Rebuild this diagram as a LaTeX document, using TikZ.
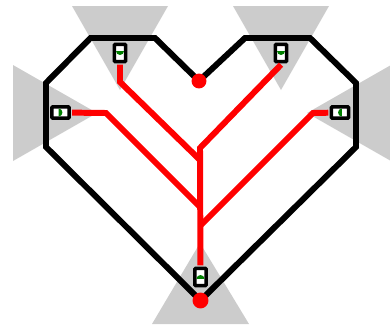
\documentclass[tikz,border=0pt]{standalone}
\usepackage{tikz}
\usetikzlibrary{calc}
\definecolor{conegray}{HTML}{CCCCCC}
\definecolor{domegreen}{HTML}{008000}
\newcommand{\sensordome}[2]{\fill[domegreen] ($(#1.center)+(#2-90:2pt)+(#2:4pt)$) arc[start angle=#2,delta angle=180,radius=4pt] -- cycle;}

\begin{document}
\begin{tikzpicture}[x=1bp,y=-1bp,
 cone/.style={fill=conegray},
 shell/.style={draw=black,line width=6pt,line join=miter},
 wire/.style={draw=red,line width=6pt,line join=miter},
 sensorv/.style={draw=black,fill=white,line width=3.5pt,rounded corners=1pt,minimum width=11.2pt,minimum height=17.5pt,inner sep=0pt,outer sep=3pt},
 sensorh/.style={sensorv,minimum width=17.5pt,minimum height=11.2pt},
 dot/.style={circle,fill=red,inner sep=0pt}]
\useasboundingbox (0,0) rectangle (390,325);
\fill[cone] (72,6) -- (168,6) -- (120,90) -- cycle;
\fill[cone] (233,6) -- (329,6) -- (281,90) -- cycle;
\fill[cone] (13,65) -- (13,161) -- (97,113) -- cycle;
\fill[cone] (391,65) -- (391,161) -- (307,113) -- cycle;
\fill[cone] (152,324) -- (249,324) -- (200,243) -- cycle;
\coordinate (notch) at (199,81);
\coordinate (tip) at (200.5,300.5);
\coordinate (tl1) at (155,38);
\coordinate (tl2) at (90.5,38);
\coordinate (l1) at (46,83);
\coordinate (l2) at (46,147);
\coordinate (tr1) at (245,38);
\coordinate (tr2) at (310,38);
\coordinate (r1) at (356,83);
\coordinate (r2) at (356,147);
\draw[shell] (notch) -- (tl1) -- (tl2) -- (l1) -- (l2) -- (tip) -- (r2) -- (r1) -- (tr2) -- (tr1) -- cycle;
\node[dot,minimum size=15pt] (top) at (notch) {};
\node[dot,minimum size=16pt] (bottom) at (tip) {};
\node[sensorv] (stl) at (120,53) {};
\node[sensorv] (str) at (281,53) {};
\node[sensorh] (sl) at (60.5,112.5) {};
\node[sensorh] (sr) at (340,112.5) {};
\node[sensorv] (sb) at (200.5,277) {};
\coordinate (bendtl) at (120,82);
\coordinate (bendl) at (106,113);
\coordinate (bendr) at (313,113);
\coordinate (jtr) at (200,148);
\coordinate (jtl) at (200,160);
\coordinate (jl) at (200,207);
\coordinate (jr) at (200,226);
\draw[wire] (stl) -- (bendtl) -- (jtl);
\draw[wire] (sl) -- (bendl) -- (jl);
\draw[wire] (sr) -- (bendr) -- (jr);
\draw[wire] (str.south) -- (jtr) -- (sb);
\sensordome{stl}{180}
\sensordome{str}{180}
\sensordome{sl}{-90}
\sensordome{sr}{90}
\sensordome{sb}{0}
\end{tikzpicture}
\end{document}
